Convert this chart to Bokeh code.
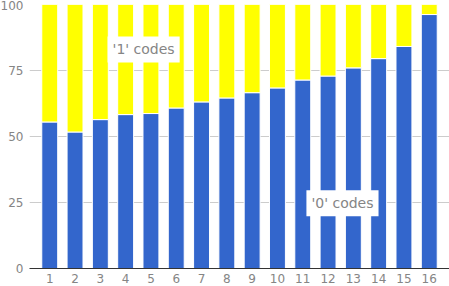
from bokeh.plotting import figure
from bokeh.models import ColumnDataSource, FixedTicker, Label, Range1d
from bokeh.embed import file_html
from bokeh.resources import INLINE

positions = [1, 2, 3, 4, 5, 6, 7, 8, 9, 10, 11, 12, 13, 14, 15, 16]
zero_codes = [55.5, 51.7, 56.4, 58.3, 58.7, 60.8, 63.1, 64.6, 66.6, 68.4, 71.4, 72.9, 76.0, 79.5, 84.1, 96.2]
one_codes = [100 - v for v in zero_codes]
y_ticks = [0, 25, 50, 75, 100]
series_names = ["'0' codes", "'1' codes"]
series_colors = ["#3366cc", "#ffff00"]

source = ColumnDataSource(dict(x=positions, zero=zero_codes, one=one_codes))

p = figure(width=449, height=286, frame_width=420, frame_height=264,
           output_backend="svg", toolbar_location=None,
           x_range=Range1d(0.2, 16.8), y_range=Range1d(0, 100),
           min_border_left=29, min_border_right=0, min_border_top=4, min_border_bottom=0)
p.styles = {"margin-left": "-3px"}
p.outline_line_color = None

p.vbar_stack(["zero", "one"], x="x", width=0.63, source=source,
             color=series_colors, line_color="white", line_width=1)

p.xgrid.grid_line_color = None
p.ygrid.grid_line_color = "#cccccc"
p.ygrid.ticker = FixedTicker(ticks=y_ticks)

text_gray = "#858585"

p.xaxis.ticker = FixedTicker(ticks=positions)
p.xaxis.axis_line_color = "#333333"
p.xaxis.major_tick_line_color = None
p.xaxis.minor_tick_line_color = None
p.xaxis.major_tick_out = 0
p.xaxis.major_tick_in = 0
p.xaxis.minor_tick_out = 0
p.xaxis.major_label_text_font = "DejaVu Sans"
p.xaxis.major_label_text_font_size = "12px"
p.xaxis.major_label_text_color = text_gray
p.xaxis.major_label_standoff = 5

p.yaxis.ticker = FixedTicker(ticks=y_ticks)
p.yaxis.axis_line_color = None
p.yaxis.major_tick_line_color = None
p.yaxis.minor_tick_line_color = None
p.yaxis.major_tick_out = 0
p.yaxis.major_tick_in = 0
p.yaxis.minor_tick_out = 0
p.yaxis.major_label_text_font = "DejaVu Sans"
p.yaxis.major_label_text_font_size = "12px"
p.yaxis.major_label_text_color = text_gray
p.yaxis.major_label_standoff = 6

for name, xx, yy in [(series_names[1], 4.71, 83.0), (series_names[0], 12.57, 24.7)]:
    p.add_layout(Label(x=xx, y=yy, text=name, text_align="center", text_baseline="middle",
                       text_font="DejaVu Sans", text_font_size="14px", text_color=text_gray,
                       background_fill_color="white", padding=5))

open("out.html", "w").write(file_html(p, INLINE))
